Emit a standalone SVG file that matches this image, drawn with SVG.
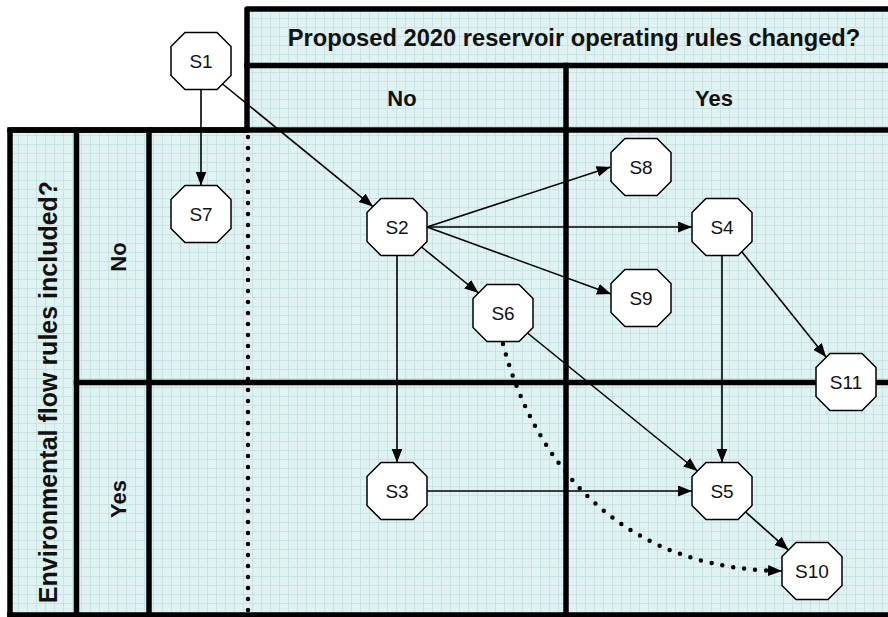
<svg xmlns="http://www.w3.org/2000/svg" width="888" height="617" viewBox="0 0 888 617">
  <style>
    .frame { fill: none; stroke: #000; stroke-width: 5.5; stroke-linecap: square; stroke-linejoin: round; }
    .hdr { font-family: "Liberation Sans", Arial, sans-serif; font-weight: bold; font-size: 22px; fill: #111; text-anchor: middle; }
    .title { font-size: 23.7px; }
    .side { font-size: 25px; }
    .node path { fill: #fff; stroke: #000; stroke-width: 1.5; }
    .node text { font-family: "Liberation Sans", Arial, sans-serif; font-size: 19px; fill: #111; text-anchor: middle; dominant-baseline: central; }
    .edge { fill: none; stroke: #000; stroke-width: 1.6; marker-end: url(#arrow); }
    .dots { fill: none; stroke: #000; stroke-width: 4.5; stroke-linecap: round; stroke-dasharray: 0 11; }
  </style>
  <defs>
    <pattern id="grid" width="9" height="9" patternUnits="userSpaceOnUse">
      <rect width="9" height="9" fill="#e1f2f2"/>
      <path d="M0 0.5 H9 M0.5 0 V9" stroke="#c6e4e4" stroke-width="1"/>
    </pattern>
    <marker id="arrow" markerUnits="userSpaceOnUse" markerWidth="15" markerHeight="12" refX="14" refY="5.5" orient="auto">
      <path d="M0,0 L14,5.5 L0,11 Z" fill="#000"/>
    </marker>
  </defs>

  <!-- page -->
  <rect width="888" height="617" fill="#fff"/>

  <!-- gridded table area -->
  <path d="M247,9 H888 V617 H10 V130 H247 Z" fill="url(#grid)"/>

  <!-- table frame -->
  <g id="table">
    <path class="frame" d="M10,617 V130 H247 V9 H890"/>
    <path class="frame" d="M247,65.5 H890"/>
    <path class="frame" d="M10,130 H890"/>
    <path class="frame" d="M566,65.5 V620"/>
    <path class="frame" d="M76.5,130 V620"/>
    <path class="frame" d="M149,130 V620"/>
    <path class="frame" d="M76.5,382.5 H890"/>
    <path class="frame" d="M10,615 H890"/>
    <path class="dots" d="M248,137 V617"/>
  </g>

  <!-- headers -->
  <g id="headers">
    <text class="hdr title" x="574" y="46">Proposed 2020 reservoir operating rules changed?</text>
    <text class="hdr" x="402" y="106">No</text>
    <text class="hdr" x="714" y="106">Yes</text>
    <text class="hdr side" transform="translate(57,392) rotate(-90)">Environmental flow rules included?</text>
    <text class="hdr" transform="translate(126,257) rotate(-90)">No</text>
    <text class="hdr" transform="translate(126,499) rotate(-90)">Yes</text>
  </g>

  <!-- connectors -->
  <g id="connectors">
    <path class="edge" d="M201,89.5 V185.5"/>
    <path class="edge" d="M222,83.5 L372.9,206.6"/>
    <path class="edge" d="M427,227 L610.5,167"/>
    <path class="edge" d="M427,227 H692"/>
    <path class="edge" d="M427,227 L611,294"/>
    <path class="edge" d="M421.5,247 L478.5,293"/>
    <path class="edge" d="M397,255.5 V462.5"/>
    <path class="edge" d="M722,255.5 V462.5"/>
    <path class="edge" d="M741.8,251.7 L826.2,357.3"/>
    <path class="edge" d="M527.5,333 L697.5,471"/>
    <path class="edge" d="M427,491 H692"/>
    <path class="edge" d="M745.5,511.9 L788.5,550.1"/>
    <path class="dots" d="M503,344 C528,440 600,563 768,570.5"/>
    <path class="edge" d="M768,570.5 L782,571"/>
  </g>

  <!-- nodes -->
  <g id="S1" class="node" transform="translate(201,61)"><path d="M-16,-28.5 L16,-28.5 L30,-14.5 L30,14.5 L16,28.5 L-16,28.5 L-30,14.5 L-30,-14.5 Z"/><text>S1</text></g>
  <g id="S7" class="node" transform="translate(201,214)"><path d="M-16,-28.5 L16,-28.5 L30,-14.5 L30,14.5 L16,28.5 L-16,28.5 L-30,14.5 L-30,-14.5 Z"/><text>S7</text></g>
  <g id="S2" class="node" transform="translate(397,227)"><path d="M-16,-28.5 L16,-28.5 L30,-14.5 L30,14.5 L16,28.5 L-16,28.5 L-30,14.5 L-30,-14.5 Z"/><text>S2</text></g>
  <g id="S8" class="node" transform="translate(641,167)"><path d="M-16,-28.5 L16,-28.5 L30,-14.5 L30,14.5 L16,28.5 L-16,28.5 L-30,14.5 L-30,-14.5 Z"/><text>S8</text></g>
  <g id="S4" class="node" transform="translate(722,227)"><path d="M-16,-28.5 L16,-28.5 L30,-14.5 L30,14.5 L16,28.5 L-16,28.5 L-30,14.5 L-30,-14.5 Z"/><text>S4</text></g>
  <g id="S9" class="node" transform="translate(641,298)"><path d="M-16,-28.5 L16,-28.5 L30,-14.5 L30,14.5 L16,28.5 L-16,28.5 L-30,14.5 L-30,-14.5 Z"/><text>S9</text></g>
  <g id="S6" class="node" transform="translate(503,313)"><path d="M-16,-28.5 L16,-28.5 L30,-14.5 L30,14.5 L16,28.5 L-16,28.5 L-30,14.5 L-30,-14.5 Z"/><text>S6</text></g>
  <g id="S11" class="node" transform="translate(846,382)"><path d="M-16,-28.5 L16,-28.5 L30,-14.5 L30,14.5 L16,28.5 L-16,28.5 L-30,14.5 L-30,-14.5 Z"/><text>S11</text></g>
  <g id="S3" class="node" transform="translate(397,491)"><path d="M-16,-28.5 L16,-28.5 L30,-14.5 L30,14.5 L16,28.5 L-16,28.5 L-30,14.5 L-30,-14.5 Z"/><text>S3</text></g>
  <g id="S5" class="node" transform="translate(722,491)"><path d="M-16,-28.5 L16,-28.5 L30,-14.5 L30,14.5 L16,28.5 L-16,28.5 L-30,14.5 L-30,-14.5 Z"/><text>S5</text></g>
  <g id="S10" class="node" transform="translate(812,571)"><path d="M-16,-28.5 L16,-28.5 L30,-14.5 L30,14.5 L16,28.5 L-16,28.5 L-30,14.5 L-30,-14.5 Z"/><text>S10</text></g>
</svg>
